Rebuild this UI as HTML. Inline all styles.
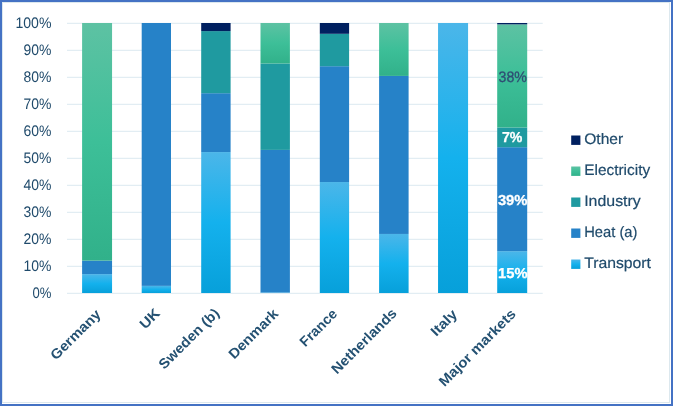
<!DOCTYPE html>
<html><head><meta charset="utf-8"><title>Chart</title>
<style>
html,body{margin:0;padding:0;background:#fff;}
body{width:673px;height:406px;overflow:hidden;}
svg{display:block;}
text{font-family:"Liberation Sans",sans-serif;text-rendering:geometricPrecision;}
</style></head><body>
<svg width="673" height="406" viewBox="0 0 673 406">
<defs>
<linearGradient id="gT" x1="0" y1="0" x2="0" y2="1">
<stop offset="0" stop-color="#4bb6e9"/><stop offset="0.5" stop-color="#14b1ed"/><stop offset="1" stop-color="#07a0da"/>
</linearGradient>
<linearGradient id="gE" x1="0" y1="0" x2="0" y2="1">
<stop offset="0" stop-color="#5dc2a3"/><stop offset="0.5" stop-color="#3dbf98"/><stop offset="1" stop-color="#31b18a"/>
</linearGradient>
</defs>
<rect x="0" y="0" width="673" height="406" fill="#fff"/>
<rect x="2.5" y="2.5" width="667" height="400" fill="none" stroke="#dce8ee" stroke-width="1"/>
<rect x="1" y="1" width="671" height="404" fill="none" stroke="#4472c4" stroke-width="2"/>

<line x1="67.0" x2="542.7" y1="293.30" y2="293.30" stroke="#e2edf3" stroke-width="1.2"/>
<line x1="67.0" x2="542.7" y1="266.30" y2="266.30" stroke="#e2edf3" stroke-width="1.2"/>
<line x1="67.0" x2="542.7" y1="239.30" y2="239.30" stroke="#e2edf3" stroke-width="1.2"/>
<line x1="67.0" x2="542.7" y1="212.30" y2="212.30" stroke="#e2edf3" stroke-width="1.2"/>
<line x1="67.0" x2="542.7" y1="185.30" y2="185.30" stroke="#e2edf3" stroke-width="1.2"/>
<line x1="67.0" x2="542.7" y1="158.30" y2="158.30" stroke="#e2edf3" stroke-width="1.2"/>
<line x1="67.0" x2="542.7" y1="131.30" y2="131.30" stroke="#e2edf3" stroke-width="1.2"/>
<line x1="67.0" x2="542.7" y1="104.30" y2="104.30" stroke="#e2edf3" stroke-width="1.2"/>
<line x1="67.0" x2="542.7" y1="77.30" y2="77.30" stroke="#e2edf3" stroke-width="1.2"/>
<line x1="67.0" x2="542.7" y1="50.30" y2="50.30" stroke="#e2edf3" stroke-width="1.2"/>
<line x1="67.0" x2="542.7" y1="23.30" y2="23.30" stroke="#e2edf3" stroke-width="1.2"/>
<rect x="82.10" y="274.10" width="29.96" height="18.90" fill="url(#gT)"/>
<rect x="82.10" y="260.60" width="29.96" height="13.50" fill="#2682c8"/>
<rect x="82.10" y="23.00" width="29.96" height="237.60" fill="url(#gE)"/>
<rect x="141.70" y="285.87" width="29.30" height="7.13" fill="url(#gT)"/>
<rect x="141.70" y="23.00" width="29.30" height="262.87" fill="#2682c8"/>
<rect x="201.20" y="152.06" width="29.40" height="140.94" fill="url(#gT)"/>
<rect x="201.20" y="93.20" width="29.40" height="58.86" fill="#2682c8"/>
<rect x="201.20" y="31.10" width="29.40" height="62.10" fill="#1f9aa0"/>
<rect x="201.20" y="23.00" width="29.40" height="8.10" fill="#002060"/>
<rect x="260.50" y="292.46" width="29.40" height="0.54" fill="url(#gT)"/>
<rect x="260.50" y="149.90" width="29.40" height="142.56" fill="#2682c8"/>
<rect x="260.50" y="63.50" width="29.40" height="86.40" fill="#1f9aa0"/>
<rect x="260.50" y="23.00" width="29.40" height="40.50" fill="url(#gE)"/>
<rect x="319.80" y="182.03" width="29.30" height="110.97" fill="url(#gT)"/>
<rect x="319.80" y="66.20" width="29.30" height="115.83" fill="#2682c8"/>
<rect x="319.80" y="33.80" width="29.30" height="32.40" fill="#1f9aa0"/>
<rect x="319.80" y="23.00" width="29.30" height="10.80" fill="#002060"/>
<rect x="379.10" y="233.95" width="29.50" height="59.05" fill="url(#gT)"/>
<rect x="379.10" y="75.92" width="29.50" height="158.03" fill="#2682c8"/>
<rect x="379.10" y="23.00" width="29.50" height="52.92" fill="url(#gE)"/>
<rect x="438.05" y="23.00" width="30.02" height="270.00" fill="url(#gT)"/>
<rect x="497.20" y="251.15" width="30.00" height="41.85" fill="url(#gT)"/>
<rect x="497.20" y="147.20" width="30.00" height="103.95" fill="#2682c8"/>
<rect x="497.20" y="127.49" width="30.00" height="19.71" fill="#1f9aa0"/>
<rect x="497.20" y="24.35" width="30.00" height="103.14" fill="url(#gE)"/>
<rect x="497.20" y="23.00" width="30.00" height="1.35" fill="#002060"/>
<text x="51.4" y="297.9" font-size="15.3" text-anchor="end" fill="#1f4a6b" textLength="18.9" lengthAdjust="spacingAndGlyphs">0%</text>
<text x="51.4" y="270.9" font-size="15.3" text-anchor="end" fill="#1f4a6b" textLength="27.9" lengthAdjust="spacingAndGlyphs">10%</text>
<text x="51.4" y="243.9" font-size="15.3" text-anchor="end" fill="#1f4a6b" textLength="27.9" lengthAdjust="spacingAndGlyphs">20%</text>
<text x="51.4" y="216.9" font-size="15.3" text-anchor="end" fill="#1f4a6b" textLength="27.9" lengthAdjust="spacingAndGlyphs">30%</text>
<text x="51.4" y="189.9" font-size="15.3" text-anchor="end" fill="#1f4a6b" textLength="27.9" lengthAdjust="spacingAndGlyphs">40%</text>
<text x="51.4" y="162.9" font-size="15.3" text-anchor="end" fill="#1f4a6b" textLength="27.9" lengthAdjust="spacingAndGlyphs">50%</text>
<text x="51.4" y="135.9" font-size="15.3" text-anchor="end" fill="#1f4a6b" textLength="27.9" lengthAdjust="spacingAndGlyphs">60%</text>
<text x="51.4" y="108.9" font-size="15.3" text-anchor="end" fill="#1f4a6b" textLength="27.9" lengthAdjust="spacingAndGlyphs">70%</text>
<text x="51.4" y="81.9" font-size="15.3" text-anchor="end" fill="#1f4a6b" textLength="27.9" lengthAdjust="spacingAndGlyphs">80%</text>
<text x="51.4" y="54.9" font-size="15.3" text-anchor="end" fill="#1f4a6b" textLength="27.9" lengthAdjust="spacingAndGlyphs">90%</text>
<text x="51.4" y="27.9" font-size="15.3" text-anchor="end" fill="#1f4a6b" textLength="36.0" lengthAdjust="spacingAndGlyphs">100%</text>
<text x="512.8" y="277.6" font-size="14.4" text-anchor="middle" font-weight="bold" stroke="#fff" stroke-width="0.3" fill="#fff" textLength="29.4" lengthAdjust="spacingAndGlyphs">15%</text>
<text x="512.7" y="204.8" font-size="14.4" text-anchor="middle" font-weight="bold" stroke="#fff" stroke-width="0.3" fill="#fff" textLength="29.6" lengthAdjust="spacingAndGlyphs">39%</text>
<text x="512.2" y="141.9" font-size="14.4" text-anchor="middle" font-weight="bold" stroke="#fff" stroke-width="0.3" fill="#fff" textLength="20.4" lengthAdjust="spacingAndGlyphs">7%</text>
<text x="512.8" y="81.6" font-size="15.2" text-anchor="middle" stroke="#2f4d73" stroke-width="0.3" fill="#2f4d73" textLength="28.4" lengthAdjust="spacingAndGlyphs">38%</text>
<text transform="translate(101.7,315.1) rotate(-45)" font-size="14" font-weight="bold" text-anchor="end" fill="#245172" textLength="64.5" lengthAdjust="spacingAndGlyphs">Germany</text>
<text transform="translate(160.7,314.1) rotate(-45)" font-size="14" font-weight="bold" text-anchor="end" fill="#245172" textLength="22" lengthAdjust="spacingAndGlyphs">UK</text>
<text transform="translate(220.2,314.1) rotate(-45)" font-size="14" font-weight="bold" text-anchor="end" fill="#245172" textLength="79" lengthAdjust="spacingAndGlyphs">Sweden (b)</text>
<text transform="translate(279.2,314.6) rotate(-45)" font-size="14" font-weight="bold" text-anchor="end" fill="#245172" textLength="63.7" lengthAdjust="spacingAndGlyphs">Denmark</text>
<text transform="translate(338.2,314.6) rotate(-45)" font-size="14" font-weight="bold" text-anchor="end" fill="#245172" textLength="46.5" lengthAdjust="spacingAndGlyphs">France</text>
<text transform="translate(397.7,314.1) rotate(-45)" font-size="14" font-weight="bold" text-anchor="end" fill="#245172" textLength="85.8" lengthAdjust="spacingAndGlyphs">Netherlands</text>
<text transform="translate(458.2,315.1) rotate(-45)" font-size="14" font-weight="bold" text-anchor="end" fill="#245172" textLength="31" lengthAdjust="spacingAndGlyphs">Italy</text>
<text transform="translate(516.7,314.9) rotate(-45)" font-size="14" font-weight="bold" text-anchor="end" fill="#245172" textLength="102.2" lengthAdjust="spacingAndGlyphs">Major markets</text>
<rect x="571.2" y="135.5" width="9.2" height="9.4" fill="#002060"/>
<text x="584.2" y="144.2" font-size="15.2" fill="#1f4a6b" stroke="#1f4a6b" stroke-width="0.2" textLength="39.0" lengthAdjust="spacingAndGlyphs">Other</text>
<rect x="571.2" y="166.5" width="9.2" height="9.4" fill="url(#gE)"/>
<text x="584.2" y="175.2" font-size="15.2" fill="#1f4a6b" stroke="#1f4a6b" stroke-width="0.2" textLength="66.0" lengthAdjust="spacingAndGlyphs">Electricity</text>
<rect x="571.2" y="197.5" width="9.2" height="9.4" fill="#1f9aa0"/>
<text x="584.2" y="206.2" font-size="15.2" fill="#1f4a6b" stroke="#1f4a6b" stroke-width="0.2" textLength="56.6" lengthAdjust="spacingAndGlyphs">Industry</text>
<rect x="571.2" y="228.5" width="9.2" height="9.4" fill="#2682c8"/>
<text x="584.2" y="237.2" font-size="15.2" fill="#1f4a6b" stroke="#1f4a6b" stroke-width="0.2" textLength="53.2" lengthAdjust="spacingAndGlyphs">Heat (a)</text>
<rect x="571.2" y="259.5" width="9.2" height="9.4" fill="url(#gT)"/>
<text x="584.2" y="268.2" font-size="15.2" fill="#1f4a6b" stroke="#1f4a6b" stroke-width="0.2" textLength="66.8" lengthAdjust="spacingAndGlyphs">Transport</text>
</svg></body></html>
